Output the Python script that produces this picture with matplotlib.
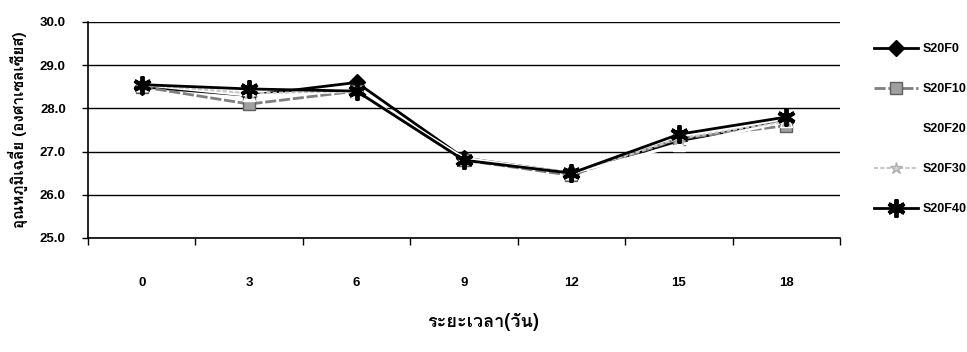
import matplotlib
matplotlib.use("Agg")
import matplotlib.pyplot as plt
from matplotlib import font_manager
from matplotlib.ft2font import FT2Font
import numpy as np

days = ["0", "3", "6", "9", "12", "15", "18"]
series_names = ["S20F0", "S20F10", "S20F20", "S20F30", "S20F40"]
s20f0 = [28.50, 28.30, 28.60, 26.85, 26.50, 27.25, 27.70]
s20f10 = [28.50, 28.10, 28.40, 26.80, 26.45, 27.30, 27.60]
s20f20 = [28.55, 28.30, 28.40, 26.85, 26.50, 27.15, 27.70]
s20f30 = [28.55, 28.35, 28.40, 26.80, 26.50, 27.30, 27.70]
s20f40 = [28.55, 28.45, 28.40, 26.80, 26.50, 27.40, 27.80]
yticks = [25.0, 26.0, 27.0, 28.0, 29.0, 30.0]
xlabel = "ระยะเวลา(วัน)"
ylabel = "อุณหภูมิเฉลี่ย (องศาเซลเซียส)"

# find a font with Thai glyphs
thai_family = None
for f in font_manager.fontManager.ttflist:
    try:
        ft = FT2Font(f.fname)
        if 0x0E23 in ft.get_charmap():
            thai_family = f.name
            break
    except Exception:
        pass
fams = ([thai_family] if thai_family else []) + ["Liberation Sans", "DejaVu Sans"]

plt.rcParams['font.family'] = ["Liberation Sans", "DejaVu Sans"]

fig = plt.figure(figsize=(9.67, 3.52), dpi=100)
ax = fig.add_axes([0.091, 0.324, 0.7777, 0.6135])

x = np.arange(len(days))
styles = [
    dict(color="black", marker="D", markersize=8, markerfacecolor="black", markeredgecolor="black", lw=2),
    dict(color="#7f7f7f", marker="s", markersize=8, markerfacecolor="#a0a0a0", markeredgecolor="#606060", lw=2, ls=(0, (4, 1))),
    dict(color="white", marker="^", markersize=8, markerfacecolor="white", markeredgecolor="white", lw=2),
    dict(color="#c8c8c8", marker="*", markersize=9, markerfacecolor="#d0d0d0", markeredgecolor="#b0b0b0", lw=1.5, ls=(0, (2, 1))),
    dict(color="black", marker=(6, 2, 0), markersize=13, markeredgewidth=2.8, lw=2),
]
data = [s20f0, s20f10, s20f20, s20f30, s20f40]
for name, vals, st in zip(series_names, data, styles):
    ax.plot(x, vals, label=name, **st)

ax.set_xlim(-0.5, len(days) - 0.5)
ax.set_ylim(25.0, 30.0)
ax.set_yticks(yticks)
ax.set_yticklabels([f"{v:.1f}" for v in yticks])
ax.set_xticks(x)
ax.set_xticklabels(days)
ax.set_xticks(np.arange(-0.5, len(days)), minor=True)
ax.tick_params(axis="x", which="major", length=0, pad=28, labelsize=9.5)
ax.tick_params(axis="x", which="minor", length=5, direction="out", width=1)
ax.tick_params(axis="y", length=4, direction="out", width=1, labelsize=9.5, pad=12)
for lbl in ax.get_xticklabels() + ax.get_yticklabels():
    lbl.set_fontweight("bold")
ax.grid(axis="y", color="black", lw=1)
ax.set_axisbelow(True)
for s in ["top", "right"]:
    ax.spines[s].set_visible(False)
ax.spines["left"].set_linewidth(1.2)
ax.spines["bottom"].set_linewidth(1.2)

fig.text(0.5, 0.085, xlabel, ha="center", va="center", fontsize=13, fontweight="bold", family=fams)
fig.text(0.018, 0.63, ylabel, ha="center", va="center", rotation=90, fontsize=11, fontweight="bold", family=fams)

leg = ax.legend(loc="upper left", bbox_to_anchor=(1.03, 0.955), frameon=False, fontsize=9,
                handlelength=3.5, labelspacing=2.25, handletextpad=0.4)
for t in leg.get_texts():
    t.set_fontweight("bold")

fig.savefig("out.png", dpi=100)
